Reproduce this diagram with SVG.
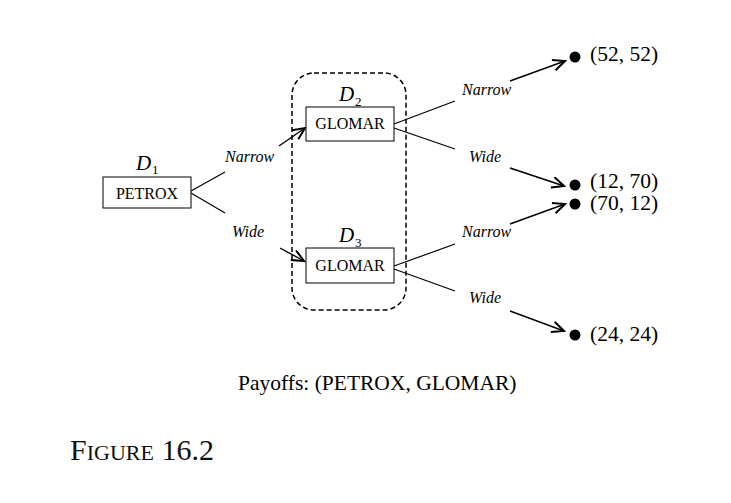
<svg xmlns="http://www.w3.org/2000/svg" width="731" height="503" viewBox="0 0 731 503">
<style>
.box{fill:#fff;stroke:#000;stroke-width:1}
.lbl{font-family:"Liberation Serif",serif;font-size:16px;fill:#000}
.br{font-family:"Liberation Serif",serif;font-size:16px;font-style:italic;fill:#000}
.dn{font-family:"Liberation Serif",serif;font-size:21px;font-style:italic;fill:#000}
.sub{font-family:"Liberation Serif",serif;font-size:13px;fill:#000}
.pay{font-family:"Liberation Serif",serif;font-size:21.5px;fill:#000}
.ln{stroke:#000;stroke-width:1.2;fill:none}
.ar{stroke:#000;stroke-width:1.4;fill:none;marker-end:url(#arr)}
</style>
<defs>
<marker id="arr" markerUnits="userSpaceOnUse" markerWidth="16" markerHeight="14" refX="13" refY="6" orient="auto">
<path d="M1,0.5 L13,6 L1,11.5" fill="none" stroke="#000" stroke-width="2"/>
</marker>
</defs>
<rect width="731" height="503" fill="#fff"/>
<g id="infoset">
<rect x="292" y="73" width="114" height="237" rx="22" fill="none" stroke="#000" stroke-width="1.5" stroke-dasharray="5,3"/>
</g>
<g id="connectors">
<line class="ln" x1="191" y1="191" x2="225" y2="172"/>
<line class="ar" x1="279" y1="146" x2="305" y2="128"/>
<line class="ln" x1="191" y1="193" x2="225" y2="213"/>
<line class="ar" x1="280" y1="248" x2="304" y2="261"/>
<line class="ln" x1="394" y1="124" x2="455" y2="101"/>
<line class="ar" x1="510" y1="81" x2="565" y2="61"/>
<line class="ln" x1="394" y1="128" x2="455" y2="149"/>
<line class="ar" x1="510" y1="168" x2="564" y2="186"/>
<line class="ln" x1="394" y1="266" x2="455" y2="244"/>
<line class="ar" x1="510" y1="224" x2="565" y2="204"/>
<line class="ln" x1="394" y1="269" x2="455" y2="291"/>
<line class="ar" x1="510" y1="311" x2="564" y2="331"/>
<text class="br" x="225" y="162">Narrow</text>
<text class="br" x="232" y="237">Wide</text>
<text class="br" x="462" y="95">Narrow</text>
<text class="br" x="469" y="162">Wide</text>
<text class="br" x="462" y="237">Narrow</text>
<text class="br" x="469" y="303">Wide</text>
</g>
<g id="petrox">
<rect class="box" x="103" y="177" width="88" height="31"/>
<text class="lbl" x="147" y="199" text-anchor="middle">PETROX</text>
<text class="dn" x="136" y="170">D</text>
<text class="sub" x="152" y="174">1</text>
</g>
<g id="glomar2">
<rect class="box" x="306" y="107" width="88" height="34"/>
<text class="lbl" x="350" y="129" text-anchor="middle">GLOMAR</text>
<text class="dn" x="339" y="101">D</text>
<text class="sub" x="355" y="106">2</text>
</g>
<g id="glomar3">
<rect class="box" x="306" y="248" width="88" height="35"/>
<text class="lbl" x="350" y="271" text-anchor="middle">GLOMAR</text>
<text class="dn" x="339" y="242">D</text>
<text class="sub" x="355" y="247">3</text>
</g>
<g id="p1"><circle cx="575" cy="57" r="5.5"/><text class="pay" x="590" y="61">(52, 52)</text></g>
<g id="p2"><circle cx="575" cy="185" r="5.5"/><text class="pay" x="590" y="188">(12, 70)</text></g>
<g id="p3"><circle cx="575" cy="204" r="5.5"/><text class="pay" x="590" y="210">(70, 12)</text></g>
<g id="p4"><circle cx="575" cy="335" r="5.5"/><text class="pay" x="590" y="341">(24, 24)</text></g>
<text class="pay" x="238" y="390">Payoffs: (PETROX, GLOMAR)</text>
<text x="70" y="460" font-family="Liberation Serif, serif" fill="#111"><tspan font-size="30">F</tspan><tspan font-size="22">IGURE</tspan><tspan font-size="30"> 16.2</tspan></text>
</svg>
